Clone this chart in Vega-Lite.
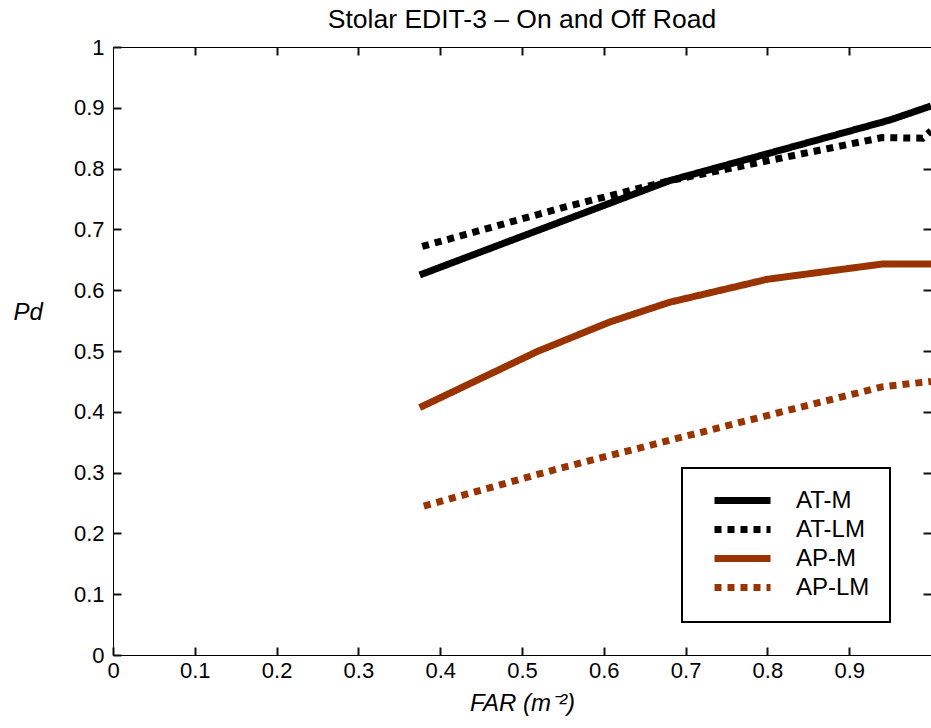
{
  "$schema": "https://vega.github.io/schema/vega-lite/v6.json",
  "autosize": {"type": "none"},
  "padding": {"left": 113, "top": 47, "right": 0, "bottom": 73},
  "width": 818,
  "height": 608,
  "background": "white",
  "title": {"text": "Stolar EDIT-3 – On and Off Road", "fontSize": 26.5, "font": "Liberation Sans", "fontWeight": "normal", "color": "black", "offset": 3, "anchor": "middle"},
  "config": {
    "view": {"stroke": "black", "strokeWidth": 1},
    "axis": {"grid": false, "domainColor": "black", "labelColor": "black", "titleColor": "black", "labelFont": "Liberation Sans", "titleFont": "Liberation Sans", "labelFlush": false, "labelOverlap": false}
  },
  "data": {"values": [
    {"series": "AT-M", "far": 0.375, "pd": 0.625},
    {"series": "AT-M", "far": 0.68, "pd": 0.78},
    {"series": "AT-M", "far": 0.95, "pd": 0.88},
    {"series": "AT-M", "far": 1.0, "pd": 0.903},
    {"series": "AT-LM", "far": 0.378, "pd": 0.672},
    {"series": "AT-LM", "far": 0.553, "pd": 0.737},
    {"series": "AT-LM", "far": 0.68, "pd": 0.78},
    {"series": "AT-LM", "far": 0.94, "pd": 0.851},
    {"series": "AT-LM", "far": 0.99, "pd": 0.85},
    {"series": "AT-LM", "far": 1.0, "pd": 0.862},
    {"series": "AP-M", "far": 0.375, "pd": 0.407},
    {"series": "AP-M", "far": 0.52, "pd": 0.5},
    {"series": "AP-M", "far": 0.608, "pd": 0.548},
    {"series": "AP-M", "far": 0.68, "pd": 0.58},
    {"series": "AP-M", "far": 0.8, "pd": 0.618},
    {"series": "AP-M", "far": 0.94, "pd": 0.643},
    {"series": "AP-M", "far": 1.0, "pd": 0.643},
    {"series": "AP-LM", "far": 0.38, "pd": 0.245},
    {"series": "AP-LM", "far": 0.546, "pd": 0.307},
    {"series": "AP-LM", "far": 0.68, "pd": 0.353},
    {"series": "AP-LM", "far": 0.812, "pd": 0.398},
    {"series": "AP-LM", "far": 0.94, "pd": 0.441},
    {"series": "AP-LM", "far": 1.0, "pd": 0.45}
  ]},
  "layer": [
    {
      "mark": {"type": "line", "strokeWidth": 7, "strokeCap": "butt", "clip": true},
      "encoding": {
        "x": {"field": "far", "type": "quantitative", "scale": {"domain": [0, 1], "nice": false},
          "axis": {"values": [0, 0.1, 0.2, 0.3, 0.4, 0.5, 0.6, 0.7, 0.8, 0.9], "format": "~g", "ticks": true, "tickSize": -8, "tickColor": "#111111", "tickWidth": 2, "tickOpacity": 1, "labelFontSize": 22, "labelPadding": 13, "title": "FAR (m⁻²)", "titleFontSize": 24, "titleFontStyle": "italic", "titleFontWeight": "normal", "titlePadding": 10}},
        "y": {"field": "pd", "type": "quantitative", "scale": {"domain": [0, 1], "nice": false},
          "axis": {"values": [0, 0.1, 0.2, 0.3, 0.4, 0.5, 0.6, 0.7, 0.8, 0.9, 1], "format": "~g", "ticks": true, "tickSize": -8, "tickColor": "#111111", "tickWidth": 2, "tickOpacity": 1, "labelFontSize": 22, "labelPadding": 17, "title": "Pd", "titleFontSize": 24, "titleFontStyle": "italic", "titleFontWeight": "normal", "titleAngle": 0, "titleAlign": "left", "titleBaseline": "middle", "titleX": -100, "titleY": 265}},
        "color": {"field": "series", "type": "nominal",
          "scale": {"domain": ["AT-M", "AT-LM", "AP-M", "AP-LM"], "range": ["#000000", "#000000", "#993300", "#993300"]},
          "legend": {"orient": "none", "legendX": 569, "legendY": 421, "title": null, "symbolType": "M0,0H6.47", "symbolSize": 300, "symbolStrokeWidth": 7, "labelFontSize": 24, "labelFont": "Liberation Sans", "labelColor": "black", "labelOffset": 69, "padding": 20, "strokeColor": "black", "fillColor": "white", "rowPadding": 0, "labelLimit": 0, "encode": {"legend": {"update": {"strokeWidth": {"value": 2}}}, "labels": {"update": {"text": {"signal": "datum.label + '\u00a0\u00a0'"}}}}}},
        "strokeDash": {"field": "series", "type": "nominal",
          "scale": {"domain": ["AT-M", "AT-LM", "AP-M", "AP-LM"], "range": [[1, 0], [7, 6], [1, 0], [7, 6]]},
          "legend": {"orient": "none", "legendX": 569, "legendY": 421, "title": null, "symbolType": "M0,0H6.47", "symbolSize": 300, "symbolStrokeWidth": 7, "labelFontSize": 24, "labelFont": "Liberation Sans", "labelColor": "black", "labelOffset": 69, "padding": 20, "strokeColor": "black", "fillColor": "white", "rowPadding": 0, "labelLimit": 0, "encode": {"legend": {"update": {"strokeWidth": {"value": 2}}}, "labels": {"update": {"text": {"signal": "datum.label + '\u00a0\u00a0'"}}}}}}
      }
    },
    {
      "mark": {"type": "line", "opacity": 0},
      "encoding": {
        "x": {"field": "far", "type": "quantitative", "axis": {"orient": "top", "values": [0.1, 0.2, 0.3, 0.4, 0.5, 0.6, 0.7, 0.8, 0.9], "labels": false, "domain": false, "ticks": true, "tickSize": -8, "tickColor": "#111111", "tickWidth": 2, "tickOpacity": 1, "title": null}},
        "y": {"field": "pd", "type": "quantitative", "axis": {"orient": "right", "values": [0.1, 0.2, 0.3, 0.4, 0.5, 0.6, 0.7, 0.8, 0.9], "labels": false, "domain": false, "ticks": true, "tickSize": -8, "tickColor": "#111111", "tickWidth": 2, "tickOpacity": 1, "title": null}},
        "detail": {"field": "series"}
      }
    }
  ],
  "resolve": {"axis": {"x": "independent", "y": "independent"}}
}
